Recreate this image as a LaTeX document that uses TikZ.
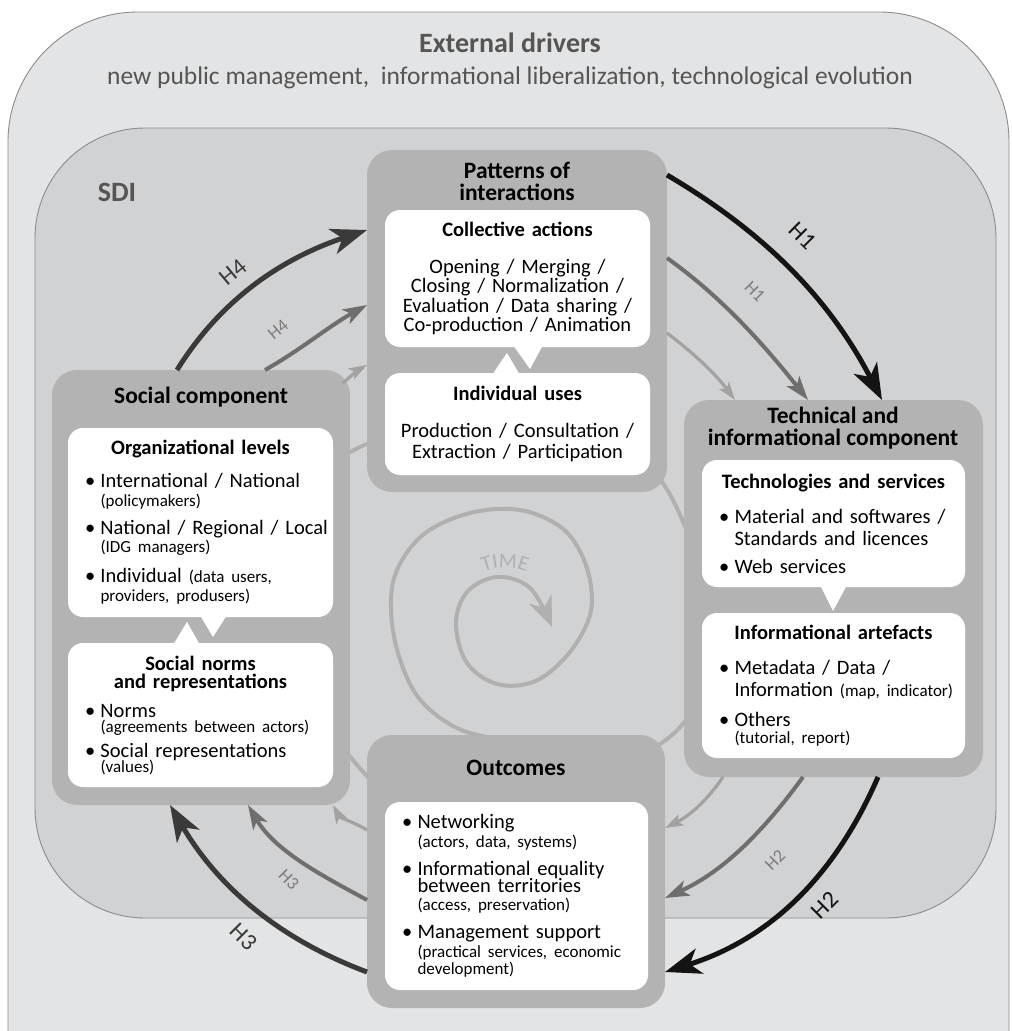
\documentclass[tikz,border=0pt]{standalone}
\usepackage{fontspec}
\setmainfont{Carlito}
\usetikzlibrary{arrows.meta,decorations.text}

\definecolor{outerbg}{HTML}{E3E4E5}
\definecolor{sdibg}{HTML}{D1D2D4}
\definecolor{compgray}{HTML}{B3B3B3}
\definecolor{rimgray}{HTML}{8C8C8C}
\definecolor{spiralgray}{HTML}{B0B0B0}
\definecolor{lightarr}{HTML}{A2A2A2}
\definecolor{midarr}{HTML}{6E6E6E}
\definecolor{darkarr}{HTML}{141414}
\definecolor{dimarr}{HTML}{3A3A3A}
\definecolor{headgray}{HTML}{555555}
\definecolor{labgray}{HTML}{7C7C7C}

\newcommand{\fsz}[2]{\fontsize{#1}{#2}\selectfont}
\newcommand{\boxfont}{\fsz{20.5}{20}}
\newcommand{\parenth}[1]{{\fsz{17}{17}#1}}
\newcommand{\bul}[1]{\hspace*{7pt}\makebox[15.5pt][l]{\textbullet}\mbox{#1}}
\newcommand{\bulcont}[1]{\hspace*{22.5pt}\mbox{#1}}
\newcommand{\boxhead}[1]{\makebox[\linewidth]{\bfseries #1}}
\lineskiplimit=-\maxdimen

\tikzset{
  compbox/.style={fill=compgray, rounded corners=25pt, anchor=north west, inner sep=0pt, outer sep=0pt},
  whitebox/.style={fill=white, rounded corners=15pt, anchor=north west, inner xsep=10pt, inner ysep=0pt, outer sep=0pt, font=\boxfont},
  comptitle/.style={font=\fsz{23.5}{22}\bfseries, align=center},
  hdark/.style={draw=darkarr, line width=5pt, -{Stealth[length=36pt,width=26pt,inset=10pt]}},
  hdim/.style={draw=dimarr, line width=5pt, -{Stealth[length=36pt,width=26pt,inset=10pt]}},
  hmid/.style={draw=midarr, line width=4pt, -{Stealth[length=24pt,width=16pt,inset=6pt]}},
  hlight/.style={draw=lightarr, line width=3.2pt, -{Stealth[length=18pt,width=12pt,inset=4pt]}},
  hbig/.style={font=\fsz{24}{24}},
  hsmall/.style={font=\fsz{18}{18}, text=labgray}
}

\begin{document}
\begin{tikzpicture}[x=1pt,y=-1pt]
  \useasboundingbox (0,0) rectangle (1012,1031);
  \fill[white] (0,0) rectangle (1012,1031);
  \filldraw[fill=outerbg, draw=rimgray, line width=0.9pt, rounded corners=130pt] (8,1060) -- (8,12) -- (1009,12) -- (1009,1060);
  \filldraw[fill=sdibg, draw=rimgray, line width=0.9pt, rounded corners=110pt] (35,128) rectangle (996,918);
  \node[font=\fsz{28}{28}\bfseries, text=headgray] (extdrv) at (510,43) {External drivers};
  \node[font=\fsz{25.5}{25.5}, text=headgray] (extlist) at (510,78) {new public management,\ \ informational liberalization, technological evolution};
  \node[font=\fsz{28}{28}\bfseries, text=headgray] (sdi) at (117,192) {SDI};

  \draw[spiralgray, line width=4pt, -{Stealth[length=30pt,width=24pt,inset=9pt]}] plot[smooth, tension=0.6] coordinates {
    (470,815) (400,800) (358,766) (333,720) (318,600) (330,480) (358,448) (420,432) (517,420)
    (610,440) (662,482) (697,560) (708,630) (697,700) (663,742) (610,760) (545,745) (492,738)
    (453,726) (418,697) (398,653) (391,608) (397,570) (424,534) (470,513) (520,510) (562,528)
    (584,560) (592,598) (585,628) (563,660) (533,682) (497,684) (467,663) (456,624) (467,592)
    (497,577) (530,588) (552,627)};
  \path[decorate, decoration={text along path, text={|\fsz{21}{21}|TIME}, text align=center, text color=spiralgray}]
    (466,585) .. controls (486,562) and (524,562) .. (544,585);

  \node[compbox, minimum width=300pt, minimum height=342pt] (pat) at (367,150) {};
  \node[compbox, minimum width=298pt, minimum height=435pt] (soc) at (52,370) {};
  \node[compbox, minimum width=299pt, minimum height=377pt] (tech) at (684,400) {};
  \node[compbox, minimum width=298pt, minimum height=273pt] (out) at (367,735) {};

  \node[comptitle] (pattitle) at (517,181) {Patterns of\\interactions};
  \node[comptitle] (soctitle) at (201,397) {Social component};
  \node[comptitle] (techtitle) at (833,428) {Technical and\\informational component};
  \node[comptitle] (outtitle) at (516,768) {Outcomes};

  \node[whitebox, minimum width=265pt, minimum height=137pt, text width=245pt, align=center] (collbox) at (385,210) {%
    \textbf{Collective actions}\\[17pt]
    Opening / Merging /\\[-0.5pt]
    Closing / Normalization /\\[-0.5pt]
    Evaluation / Data sharing /\\[-0.5pt]
    Co-production / Animation};
  \node[whitebox, minimum width=265pt, minimum height=102pt, text width=245pt, align=center] (indbox) at (385,373) {%
    \textbf{Individual uses}\\[17pt]
    Production / Consultation /\\[1pt]
    Extraction / Participation};

  \node[whitebox, minimum width=265pt, minimum height=189pt, text width=245pt, align=left] (orgbox) at (68,428) {%
    \boxhead{Organizational levels}\\[13pt]
    \bul{International / National}\\[-1pt]
    \bulcont{\parenth{(policymakers)}}\\[8pt]
    \bul{National / Regional / Local}\\[-2pt]
    \bulcont{\parenth{(IDG managers)}}\\[10pt]
    \bul{Individual \parenth{(data users,}}\\[-1pt]
    \bulcont{\parenth{providers, produsers)}}};
  \node[whitebox, minimum width=265pt, minimum height=144pt, text width=245pt, align=left] (normbox) at (68,643) {%
    \boxhead{Social norms}\\[-2pt]
    \boxhead{and representations}\\[9pt]
    \bul{Norms}\\[-5pt]
    \bulcont{\parenth{(agreements between actors)}}\\[5pt]
    \bul{Social representations}\\[-5pt]
    \bulcont{\parenth{(values)}}};

  \node[whitebox, minimum width=263pt, minimum height=127pt, text width=243pt, align=left] (techbox) at (702,460) {%
    \boxhead{Technologies and services}\\[15pt]
    \bul{Material and softwares /}\\[2pt]
    \bulcont{Standards and licences}\\[8pt]
    \bul{Web services}};
  \node[whitebox, minimum width=263pt, minimum height=145pt, text width=243pt, align=left] (artbox) at (702,613) {%
    \boxhead{Informational artefacts}\\[15pt]
    \bul{Metadata / Data /}\\[2pt]
    \bulcont{Information \parenth{(map, indicator)}}\\[10pt]
    \bul{Others}\\[-3pt]
    \bulcont{\parenth{(tutorial, report)}}};

  \node[whitebox, minimum width=263pt, minimum height=188pt, text width=243pt, align=left] (outbox) at (385,802) {%
    \bul{Networking}\\[-1pt]
    \bulcont{\parenth{(actors, data, systems)}}\\[8pt]
    \bul{Informational equality}\\[-3pt]
    \bulcont{between territories}\\[-2pt]
    \bulcont{\parenth{(access, preservation)}}\\[8pt]
    \bul{Management support}\\[-1pt]
    \bulcont{\parenth{(practical services, economic}}\\[-3pt]
    \bulcont{\parenth{development)}}};

  \fill[white] (513,345) -- (543,345) -- (530,369) -- cycle;
  \fill[white] (492,375) -- (520,375) -- (507,353) -- cycle;
  \fill[white] (200,615) -- (227,615) -- (213,637) -- cycle;
  \fill[white] (173,645) -- (200,645) -- (187,622) -- cycle;
  \fill[white] (820,585) -- (847,585) -- (833,611) -- cycle;

  \draw[hdark] (pat.east |- 0,175) .. controls (764,232) and (829,298) .. (tech.north -| 882,0);
  \draw[hmid] (pat.east |- 0,258) .. controls (723,298) and (764,345) .. (tech.north -| 808,0);
  \draw[hlight] (pat.east |- 0,333) .. controls (692,352) and (714,372) .. (tech.north -| 735,0);
  \draw[hdark] (tech.south -| 878,0) .. controls (835,876) and (770,939) .. (out.east |- 0,972);
  \draw[hmid] (tech.south -| 803,0) .. controls (765,829) and (725,871) .. (out.east |- 0,898);
  \draw[hlight] (tech.south -| 723,0) .. controls (708,799) and (691,815) .. (out.east |- 0,828);
  \draw[hdim] (out.west |- 0,972) .. controls (279,939) and (218,887) .. (soc.south -| 170,0);
  \draw[hmid] (out.west |- 0,900) .. controls (321,875) and (275,851) .. (soc.south -| 248,0);
  \draw[hlight] (out.west |- 0,830) .. controls (354,822) and (340,818) .. (soc.south -| 333,0);
  \draw[hdim] (soc.north -| 177,0) .. controls (223,296) and (286,257) .. (pat.west |- 0,230);
  \draw[hmid] (soc.north -| 265,0) .. controls (302,349) and (329,326) .. (pat.west |- 0,305);
  \draw[hlight] ([xshift=-7pt,yshift=-13pt]soc.north east) .. controls (352,375) and (358,370) .. (pat.west |- 0,365);

  \node[hbig, text=darkarr, rotate=-45] (h1big) at (803,236) {H1};
  \node[hsmall, rotate=-45] (h1small) at (755,292) {H1};
  \node[hbig, text=darkarr, rotate=45] (h2big) at (825,905) {H2};
  \node[hsmall, rotate=45] (h2small) at (775,860) {H2};
  \node[hbig, text=dimarr, rotate=-45] (h3big) at (244,937) {H3};
  \node[hsmall, rotate=-45] (h3small) at (289,880) {H3};
  \node[hbig, text=dimarr, rotate=40] (h4big) at (233,272) {H4};
  \node[hsmall, rotate=40] (h4small) at (278,330) {H4};
\end{tikzpicture}
\end{document}
